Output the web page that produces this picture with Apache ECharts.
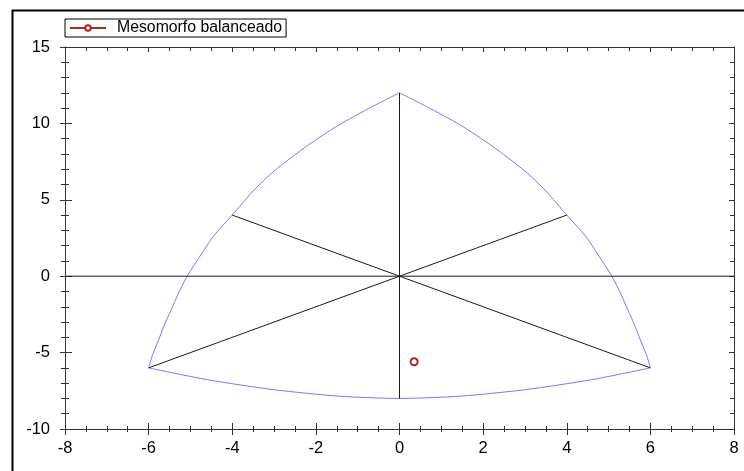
<!DOCTYPE html>
<html>
<head>
<meta charset="utf-8">
<script src="https://cdn.jsdelivr.net/npm/echarts@6/dist/echarts.min.js"></script>
<style>
  html, body { margin: 0; padding: 0; background: #fff; }
  #chart { width: 744px; height: 471px; }
</style>
</head>
<body>
<div id="chart"></div>
<script>
// Somatochart: outline arcs, reference axes and one plotted somatotype.
const xRange = { min: -8, max: 8, step: 2 };
const yRange = { min: -10, max: 15, step: 5 };

// Outline of the somatochart (endomorph / mesomorph / ectomorph corners)
const leftArc = [[0, 12], [-0.65, 11.1], [-1.45, 9.9], [-2.2, 8.55], [-3, 6.88], [-3.5, 5.58], [-4, 4],
  [-4.45, 2.62], [-4.75, 1.4], [-5.08, 0], [-5.3, -1.2], [-5.46, -2.2], [-5.64, -3.3],
  [-5.76, -4.16], [-5.9, -5.1], [-6, -6]];
const rightArc = [[0, 12], [0.65, 11.1], [1.45, 9.9], [2.2, 8.55], [3, 6.88], [3.5, 5.58], [4, 4],
  [4.45, 2.62], [4.75, 1.4], [5.08, 0], [5.3, -1.2], [5.46, -2.2], [5.64, -3.3],
  [5.76, -4.16], [5.9, -5.1], [6, -6]];
const bottomArc = [[-6, -6], [-4.6, -6.77], [-3, -7.43], [-1.45, -7.85], [0, -8],
  [1.45, -7.85], [3, -7.43], [4.6, -6.77], [6, -6]];

// Reference lines through the origin
const horizontalLine = [[-8, 0], [8, 0]];
const verticalLine = [[0, 12], [0, -8]];
const diagonalA = [[-4, 4], [6, -6]];
const diagonalB = [[4, 4], [-6, -6]];

const somatotypeName = 'Mesomorfo balanceado';
const somatotypePoint = [[0.35, -5.6]];

const axisColor = '#333';
const labelFont = { color: '#000', fontFamily: 'Liberation Sans, Arial, sans-serif', fontSize: 16.5 };

function xAxisDef(position, inside, major, minor, labels) {
  return {
    type: 'value', position: position, min: xRange.min, max: xRange.max, interval: xRange.step,
    axisLine: { show: true, onZero: false, lineStyle: { color: axisColor, width: 1 } },
    axisTick: { show: true, inside: inside, length: major, lineStyle: { color: axisColor } },
    minorTick: { show: true, splitNumber: 4, length: minor, lineStyle: { color: axisColor } },
    splitLine: { show: false }, minorSplitLine: { show: false },
    axisLabel: Object.assign({ show: labels, margin: 11 }, labelFont)
  };
}
function yAxisDef(position, inside, major, minor, labels) {
  return {
    type: 'value', position: position, min: yRange.min, max: yRange.max, interval: yRange.step,
    axisLine: { show: true, onZero: false, lineStyle: { color: axisColor, width: 1 } },
    axisTick: { show: true, inside: inside, length: major, lineStyle: { color: axisColor } },
    minorTick: { show: true, splitNumber: 5, length: minor, lineStyle: { color: axisColor } },
    splitLine: { show: false }, minorSplitLine: { show: false },
    axisLabel: Object.assign({ show: labels, margin: 15 }, labelFont)
  };
}

function guide(data) {
  return {
    type: 'line', data: data, symbol: 'none', silent: true,
    lineStyle: { color: '#1a1a1a', width: 1 }, z: 3
  };
}
function arc(data) {
  return {
    type: 'line', data: data, smooth: 0.25, symbol: 'none', silent: true,
    lineStyle: { color: '#7878ff', width: 1 }, z: 2
  };
}

const chart = echarts.init(document.getElementById('chart'), null, { renderer: 'canvas' });
chart.setOption({
  backgroundColor: '#fff',
  animation: false,
  grid: { left: 65, top: 47, right: 10, bottom: 42, containLabel: false },
  graphic: [{
    type: 'rect', left: 10, top: 8, silent: true,
    shape: { x: 0, y: 0, width: 800, height: 500 },
    style: { fill: 'none', stroke: '#000', lineWidth: 2 }
  }],
  legend: {
    data: [somatotypeName], left: 65, top: 19,
    orient: 'horizontal', padding: [1, 4, 1, 4],
    borderColor: '#000', borderWidth: 1, borderRadius: 0,
    itemWidth: 36, itemHeight: 7, itemGap: 6,
    textStyle: { color: '#000', fontFamily: 'Liberation Sans, Arial, sans-serif', fontSize: 15.8, padding: [0, 0, 0, 6] }
  },
  xAxis: [
    xAxisDef('bottom', false, 6, 3, true),
    xAxisDef('bottom', true, 6, 3, false),
    xAxisDef('top', true, 5, 4, false)
  ],
  yAxis: [
    yAxisDef('left', false, 5, 4, true),
    yAxisDef('left', true, 7, 4, false),
    yAxisDef('right', true, 5, 4, false)
  ],
  series: [
    arc(leftArc), arc(rightArc), arc(bottomArc),
    guide(horizontalLine), guide(verticalLine),
    guide(diagonalA), guide(diagonalB),
    {
      name: somatotypeName, type: 'line', data: somatotypePoint,
      symbol: 'emptyCircle', symbolSize: 7, showSymbol: true,
      itemStyle: { color: '#b22222', borderWidth: 1 },
      lineStyle: { color: '#a52a2a', width: 1 }, z: 5
    }
  ]
});
</script>
</body>
</html>
